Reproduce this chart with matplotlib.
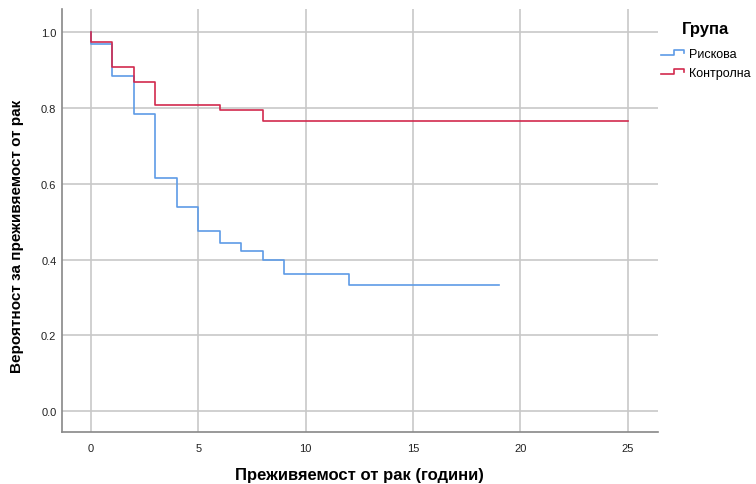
import numpy as np
import matplotlib.pyplot as plt
from matplotlib.lines import Line2D
from matplotlib.legend_handler import HandlerBase

plt.rcParams['font.family'] = ['Liberation Sans Narrow', 'Liberation Sans', 'DejaVu Sans']

# Kaplan-Meier steps: time of drop and survival after it
risk_t = [0, 0, 1, 2, 3, 4, 5, 6, 7, 8, 9, 12, 19]
risk_s = [1.0, 0.970, 0.886, 0.784, 0.615, 0.540, 0.476, 0.443, 0.424, 0.400, 0.363, 0.332, 0.332]
ctrl_t = [0, 0, 1, 2, 3, 6, 8, 25]
ctrl_s = [1.0, 0.974, 0.908, 0.868, 0.807, 0.796, 0.767, 0.767]

groups = ['Рискова', 'Контролна']
colors = ['#5e9be6', '#d22a4e']


class StepHandler(HandlerBase):
    # small step-shaped sample in the legend
    def create_artists(self, legend, orig, xd, yd, w, h, fontsize, trans):
        xs = np.array([0, 0.55, 0.55, 0.92, 0.92]) * w - xd
        ys = np.array([0.25, 0.25, 0.8, 0.8, 0.5]) * h - yd
        ln = Line2D(xs, ys, color=orig.get_color(), lw=orig.get_linewidth())
        ln.set_transform(trans)
        return [ln]


fig = plt.figure(figsize=(7.56, 4.85), dpi=100)
ax = fig.add_axes([0.082, 0.107, 0.788, 0.872])

lines = []
for t, s, name, c in zip([risk_t, ctrl_t], [risk_s, ctrl_s], groups, colors):
    ln, = ax.step(t, s, where='post', color=c, lw=1.2, label=name)
    lines.append(ln)

ax.set_xlim(-1.35, 26.4)
ax.set_ylim(-0.055, 1.061)
ax.set_xticks(range(0, 26, 5))
ax.set_yticks(np.arange(0, 1.01, 0.2))
ax.set_yticklabels(['%.1f' % v for v in np.arange(0, 1.01, 0.2)])
ax.grid(True, color='#c8c8c8', lw=1.2)
ax.set_axisbelow(True)
ax.tick_params(axis='y', length=0, labelsize=8, pad=4, colors='#222222')
ax.tick_params(axis='x', length=0, labelsize=8, pad=8, colors='#222222')
for side in ['top', 'right']:
    ax.spines[side].set_visible(False)
for side in ['left', 'bottom']:
    ax.spines[side].set_color('#888888')
    ax.spines[side].set_linewidth(1.2)

ax.set_xlabel('Преживяемост от рак (години)', fontsize=12, fontweight='bold', labelpad=10)
ax.set_ylabel('Вероятност за преживяемост от рак', fontsize=11, fontweight='bold')
ax.yaxis.set_label_coords(-0.064, 0.466)

leg = ax.legend(lines, groups, title='Група', loc='upper left', bbox_to_anchor=(0.99, 0.993),
                frameon=False, fontsize=9, handlelength=2.0, handletextpad=0.25,
                borderaxespad=0.3, labelspacing=0.55,
                handler_map={Line2D: StepHandler()})
leg.get_title().set_fontweight('bold')
leg.get_title().set_fontsize(12)
leg._legend_box.sep = 9

fig.savefig('out.png', dpi=100)
